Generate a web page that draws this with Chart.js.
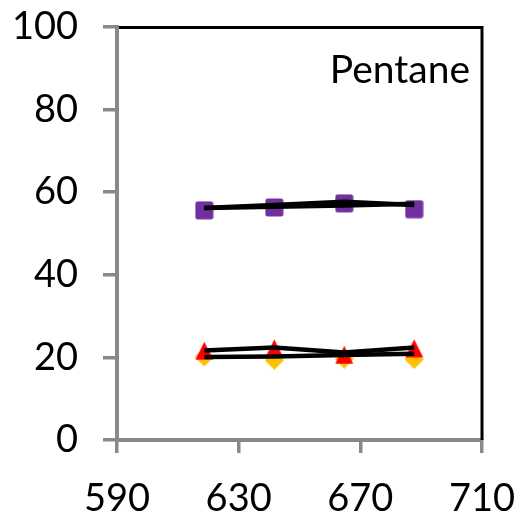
<!DOCTYPE html>
<html><head><meta charset="utf-8">
<script src="https://cdn.jsdelivr.net/npm/chart.js@4/dist/chart.umd.min.js"></script>
<style>html,body{margin:0;padding:0;background:#fff;overflow:hidden}#wrap{width:523px;height:514px}</style>
</head><body><div id="wrap"><canvas id="c" width="523" height="514"></canvas></div>
<script>
// ---- data ----
const xValues = [618.7, 641.7, 664.7, 687.7];
const squareValues = [55.6, 56.3, 57.3, 55.9];
const triangleValues = [21.6, 22.2, 20.6, 22.2];
const diamondValues = [20.1, 19.3, 19.6, 19.5];
const lineA = [56.2, 56.9, 57.7, 56.9];
const lineB = [56.2, 56.5, 56.8, 57.2];
const lineC = [21.7, 22.4, 21.2, 22.4];
const lineD = [20.1, 20.2, 20.6, 20.9];
const xTicks = [590, 630, 670, 710];
const yTicks = [0, 20, 40, 60, 80, 100];
const panelLabel = 'Pentane';

const pts = ys => xValues.map((x, i) => ({x: x, y: ys[i]}));

function marker(kind, color) {
  const s = 19, c = document.createElement('canvas');
  c.width = s; c.height = s;
  const g = c.getContext('2d');
  g.fillStyle = color;
  g.beginPath();
  if (kind === 'square') {
    const r = 2.5, a = 0.5, b = s - 0.5;
    g.moveTo(a + r, a); g.lineTo(b - r, a); g.quadraticCurveTo(b, a, b, a + r);
    g.lineTo(b, b - r); g.quadraticCurveTo(b, b, b - r, b);
    g.lineTo(a + r, b); g.quadraticCurveTo(a, b, a, b - r);
    g.lineTo(a, a + r); g.quadraticCurveTo(a, a, a + r, a);
  } else if (kind === 'triangle') {
    g.moveTo(s / 2, 0.5); g.lineTo(s - 0.5, s - 0.5); g.lineTo(0.5, s - 0.5);
  } else {
    g.moveTo(s / 2, 0); g.lineTo(s, s / 2); g.lineTo(s / 2, s); g.lineTo(0, s / 2);
  }
  g.closePath(); g.fill();
  return c;
}

const purple = '#7030A0', red = '#FF0000', gold = '#FFC000';
const lineDs = (data) => ({type: 'scatter', data: pts(data), showLine: true, borderColor: '#000',
  borderWidth: 4.5, pointRadius: 0, pointHoverRadius: 0, fill: false, tension: 0, order: 0});
const markDs = (data, kind, color, order) => ({type: 'scatter', data: pts(data), showLine: false,
  pointStyle: marker(kind, color), pointRadius: 9.5, backgroundColor: color, borderColor: color, order: order});

const FONT = 'Lato';
const framePlugin = {
  id: 'frame',
  beforeDatasetsDraw(chart) {
    const {ctx, chartArea: a} = chart;
    ctx.save();
    ctx.strokeStyle = '#000'; ctx.lineWidth = 3;
    ctx.beginPath();
    ctx.moveTo(a.left + 2, a.top + 0.5);
    ctx.lineTo(a.right, a.top + 0.5);
    ctx.lineTo(a.right, a.bottom);
    ctx.stroke();
    ctx.restore();
  },
  afterDraw(chart) {
    const {ctx} = chart;
    ctx.save();
    ctx.fillStyle = '#000';
    ctx.font = '39px ' + FONT;
    ctx.textAlign = 'right'; ctx.textBaseline = 'alphabetic';
    ctx.fillText(panelLabel, 470, 83);
    ctx.restore();
  }
};

new Chart(document.getElementById('c'), {
  type: 'scatter',
  data: {datasets: [
    lineDs(lineA), lineDs(lineB), lineDs(lineC), lineDs(lineD),
    markDs(squareValues, 'square', purple, 1),
    markDs(triangleValues, 'triangle', red, 1),
    markDs(diamondValues, 'diamond', gold, 2)
  ]},
  options: {
    responsive: false, animation: false, devicePixelRatio: 1,
    layout: {padding: {top: 27, right: 41, left: 0, bottom: 0}},
    plugins: {legend: {display: false}, tooltip: {enabled: false}, title: {display: false}},
    events: [],
    scales: {
      x: {
        type: 'linear', min: 590, max: 710,
        afterBuildTicks: s => { s.ticks = xTicks.map(v => ({value: v})); },
        afterFit: s => { s.height = 74; s.paddingLeft = 0; s.paddingRight = 0; },
        grid: {drawOnChartArea: false, drawTicks: true, tickLength: 13, color: '#898989', lineWidth: 3.5},
        border: {display: true, color: '#898989', width: 4},
        ticks: {color: '#000', font: {family: FONT, size: 38}, padding: 23, maxRotation: 0}
      },
      y: {
        type: 'linear', min: 0, max: 100,
        afterBuildTicks: s => { s.ticks = yTicks.map(v => ({value: v})); },
        afterFit: s => { s.width = 117; s.paddingTop = 0; s.paddingBottom = 0; },
        grid: {drawOnChartArea: false, drawTicks: true, tickLength: 14, color: '#898989', lineWidth: 3.5},
        border: {display: true, color: '#898989', width: 4},
        ticks: {color: '#000', font: {family: FONT, size: 38}, padding: 25}
      }
    }
  },
  plugins: [framePlugin]
});
</script></body></html>
